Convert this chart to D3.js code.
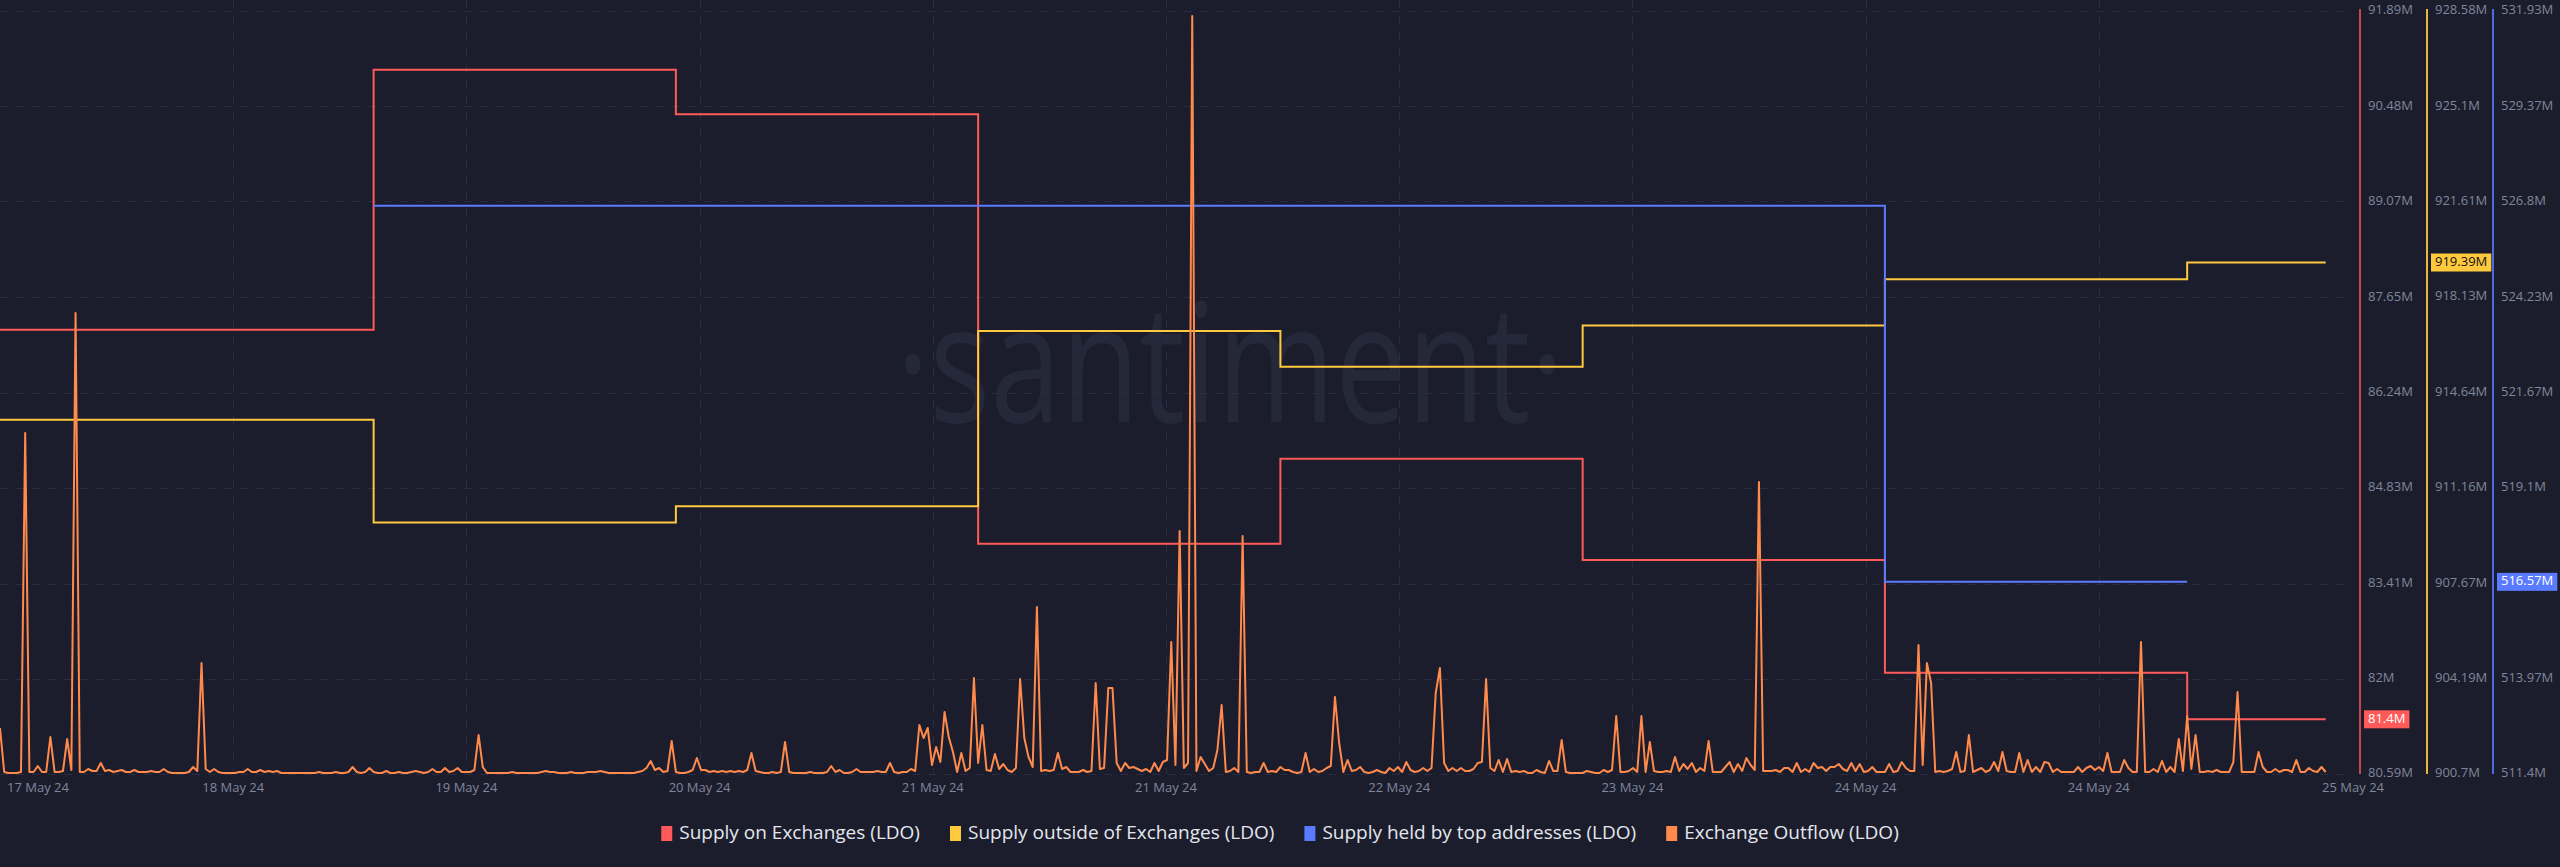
<!DOCTYPE html>
<html><head><meta charset="utf-8">
<script src="https://cdn.jsdelivr.net/npm/d3@7"></script>
<style>
html,body{margin:0;padding:0;background:#1b1d2c;}
svg{display:block;}
</style></head><body>
<svg id="chart" width="2560" height="867"></svg>
<script>
// ---------- DATA ----------
const dayDates = ["2024-05-16","2024-05-17","2024-05-18","2024-05-19","2024-05-20","2024-05-21","2024-05-22","2024-05-23","2024-05-24"];
const lastTimestamp = "2024-05-24T11:00:00Z";
// millions of LDO
const supplyOnExchanges = [87.17, 87.17, 91.02, 90.36, 84.00, 85.26, 83.76, 82.09, 81.40];
const supplyOutsideExchanges = [913.64, 913.64, 909.89, 910.48, 916.89, 915.58, 917.09, 918.78, 919.39];
const supplyTopAddresses = [null, null, 526.69, 526.69, 526.69, 526.69, 526.69, 516.57, 516.57];

// Exchange outflow (thousand LDO), one value every 20 minutes from outflowStart
const outflowStart = "2024-05-16T18:20:00Z";
const outflowStepMinutes = 20;
const exchangeOutflow = [
45,1,0,0,0,1,340,1,1,7,1,1,36,1,1,2,34,3,460,1,1,4,2,2,
10,2,3,1,2,3,1,1,3,1,1,1,2,1,1,4,1,0,0,0,0,1,6,2,
110,4,1,4,1,0,0,0,0,1,1,4,1,1,3,1,2,1,2,0,0,0,0,0,
0,0,0,0,1,0,0,0,1,0,0,1,6,1,0,1,5,1,0,0,2,0,0,1,
0,0,1,2,1,0,1,4,1,1,5,1,2,5,1,1,1,3,38,6,0,0,0,0,
0,0,1,0,0,0,0,0,0,1,2,1,1,0,0,0,1,0,0,0,1,1,1,2,
1,0,0,0,0,0,0,0,1,2,5,12,3,5,1,2,32,1,0,0,1,3,15,3,
3,1,2,1,2,1,2,1,2,1,3,20,2,1,0,0,1,0,1,31,1,0,0,0,
0,1,0,0,0,1,7,1,3,0,0,1,4,1,1,1,1,2,1,1,10,1,0,1,
1,4,2,48,35,45,8,26,11,61,36,21,1,20,2,5,95,10,48,3,2,19,4,9,
3,1,5,94,35,16,6,166,2,3,2,3,20,4,6,1,1,1,3,1,2,90,4,5,
85,85,10,2,10,5,6,4,2,4,1,10,2,11,13,131,8,242,5,10,757,2,16,9,
2,5,23,68,1,2,5,1,237,1,0,1,1,10,1,2,1,6,3,3,1,0,1,20,
1,4,1,2,5,7,76,30,1,13,2,3,6,1,0,1,3,1,0,5,2,6,1,11,
3,1,2,5,2,5,80,105,10,2,5,2,5,2,2,4,10,11,94,5,2,13,1,14,
1,2,1,2,0,0,3,1,0,12,2,2,33,1,0,0,0,0,2,1,0,0,3,1,
3,57,1,1,2,5,1,57,1,31,2,1,1,2,1,16,2,9,4,10,1,5,2,32,
1,1,1,6,11,1,9,2,15,8,3,291,2,2,2,3,1,5,5,1,10,1,4,1,
10,5,6,2,6,6,9,4,2,10,2,9,1,2,6,1,1,1,9,1,2,11,5,2,
2,128,8,110,90,1,2,1,2,4,21,1,2,38,1,3,5,1,3,11,2,21,2,1,
1,20,1,13,1,6,1,11,10,1,4,1,1,1,1,6,1,5,7,3,6,2,20,1,
1,1,13,5,1,1,131,1,1,4,1,12,1,6,1,34,2,57,4,38,1,1,2,1,
3,1,1,1,11,81,1,1,1,1,21,6,1,1,4,1,3,3,1,13,1,1,5,2,
1,6,1
];

const xDomain = ["2024-05-16T18:20:00Z", "2024-05-24T11:30:00Z"];
const xTickLabels = ["17 May 24","18 May 24","19 May 24","20 May 24","21 May 24","21 May 24","22 May 24","23 May 24","24 May 24","24 May 24","25 May 24"];
const redTicks = [80.59, 82, 83.41, 84.83, 86.24, 87.65, 89.07, 90.48, 91.89];
const yellowTicks = [900.7, 904.19, 907.67, 911.16, 914.64, 918.13, 921.61, 925.1, 928.58];
const blueTicks = [511.4, 513.97, 516.53, 519.1, 521.67, 524.23, 526.8, 529.37, 531.93];

const seriesNames = ["Supply on Exchanges (LDO)","Supply outside of Exchanges (LDO)","Supply held by top addresses (LDO)","Exchange Outflow (LDO)"];
const seriesColors = ["#ff5a5a","#ffc93e","#5a7bff","#ff8a4c"];
const axisColors = ["#c2474b","#e8b83c","#4e6ae0"];

// ---------- LAYOUT ----------
const W = 2332, plotTop = 11, plotBottom = 774, gridRight = 2347;
const axisX = [2360, 2427, 2493];
const font = "'Open Sans', 'DejaVu Sans', sans-serif";
const svg = d3.select("#chart");
svg.append("rect").attr("width",2560).attr("height",867).attr("fill","#1b1d2c");

const x = d3.scaleUtc().domain(xDomain.map(d=>new Date(d))).range([0, W]);
const yRed = d3.scaleLinear().domain([redTicks[0], redTicks[redTicks.length-1]]).range([plotBottom, plotTop]);
const yYel = d3.scaleLinear().domain([yellowTicks[0], yellowTicks[yellowTicks.length-1]]).range([plotBottom, plotTop]);
const yBlu = d3.scaleLinear().domain([blueTicks[0], blueTicks[blueTicks.length-1]]).range([plotBottom, plotTop]);
const yOut = d3.scaleLinear().domain([0, d3.max(exchangeOutflow)]).range([773, 16]);

// watermark
svg.append("text").attr("x",1230).attr("y",422).attr("text-anchor","middle")
  .attr("font-family",font).attr("font-size",165).attr("font-weight",400)
  .attr("fill","#252839").attr("textLength",668).attr("lengthAdjust","spacingAndGlyphs")
  .text("·santiment·");

// grid
const grid = svg.append("g").attr("stroke","#2a2d41").attr("stroke-width",1).attr("stroke-dasharray","8,8");
redTicks.forEach(v=>{
  grid.append("line").attr("x1",0).attr("x2",gridRight).attr("y1",Math.round(yRed(v))+0.5).attr("y2",Math.round(yRed(v))+0.5);
});
const t0 = +x.domain()[0], t1 = +x.domain()[1];
const tickTimes = xTickLabels.map((_,k)=>new Date(t0 + k*(t1-t0)/(xTickLabels.length-1)));
tickTimes.forEach((t,k)=>{
  if(k===0||k===tickTimes.length-1) return;
  grid.append("line").attr("x1",Math.round(x(t))+0.5).attr("x2",Math.round(x(t))+0.5).attr("y1",0).attr("y2",plotBottom);
});

// x labels
tickTimes.forEach((t,k)=>{
  let xx = x(t), anchor="middle";
  if(k===0){xx = 7; anchor="start";}
  if(k===tickTimes.length-1){xx = 2384; anchor="end";}
  svg.append("text").attr("x",xx).attr("y",789).attr("text-anchor",anchor).attr("dominant-baseline","middle")
    .attr("font-family",font).attr("font-size",13).attr("fill","#80869b").text(xTickLabels[k]);
});

// series
const clip = svg.append("defs").append("clipPath").attr("id","clip");
clip.append("rect").attr("x",0).attr("y",0).attr("width",W).attr("height",plotBottom+2);
const plot = svg.append("g").attr("clip-path","url(#clip)");

function dailyPoints(vals, extend){
  const pts = dayDates.map((d,i)=>({t:new Date(d+"T00:00:00Z"), v:vals[i]})).filter(p=>p.v!=null);
  if(extend) pts.push({t:new Date(lastTimestamp), v:vals[vals.length-1]});
  return pts;
}
function stepLine(pts, y, color){
  const line = d3.line().x(p=>x(p.t)).y(p=>y(p.v)).curve(d3.curveStepAfter);
  plot.append("path").attr("d",line(pts)).attr("fill","none").attr("stroke",color).attr("stroke-width",2);
}
stepLine(dailyPoints(supplyOnExchanges,true), yRed, seriesColors[0]);
stepLine(dailyPoints(supplyOutsideExchanges,true), yYel, seriesColors[1]);
stepLine(dailyPoints(supplyTopAddresses,false), yBlu, seriesColors[2]);

const outStart = +new Date(outflowStart);
const outLine = d3.line().x((v,i)=>x(new Date(outStart + i*outflowStepMinutes*60000))).y(v=>yOut(v));
plot.append("path").attr("d",outLine(exchangeOutflow)).attr("fill","none").attr("stroke",seriesColors[3])
  .attr("stroke-width",2).attr("stroke-linejoin","round");

// right axes
const axes = [[redTicks,yRed],[yellowTicks,yYel],[blueTicks,yBlu]];
axes.forEach(([ticks,y],j)=>{
  svg.append("line").attr("x1",axisX[j]).attr("x2",axisX[j]).attr("y1",9).attr("y2",plotBottom)
    .attr("stroke",axisColors[j]).attr("stroke-width",2);
  ticks.forEach(v=>{
    svg.append("text").attr("x",axisX[j]+8).attr("y",y(v)).attr("dominant-baseline","middle")
      .attr("font-family",font).attr("font-size",13).attr("fill","#80869b").text(v+"M");
  });
});

// last value badges
const lastVals = [supplyOnExchanges[supplyOnExchanges.length-1], supplyOutsideExchanges[supplyOutsideExchanges.length-1], supplyTopAddresses[supplyTopAddresses.length-1]];
const badgeText = ["#ffffff","#111111","#ffffff"];
axes.forEach(([ticks,y],j)=>{
  const g = svg.append("g");
  const t = g.append("text").attr("x",axisX[j]+8).attr("y",y(lastVals[j])).attr("dominant-baseline","middle")
    .attr("font-family",font).attr("font-size",13).attr("fill",badgeText[j]).text(lastVals[j]+"M");
  const w = t.node().getComputedTextLength();
  g.insert("rect","text").attr("x",axisX[j]+4).attr("y",y(lastVals[j])-9).attr("width",w+8).attr("height",18)
    .attr("fill",seriesColors[j]);
});

// legend
const legend = svg.append("g");
let lx = 0;
seriesNames.forEach((name,i)=>{
  const item = legend.append("g").attr("transform",`translate(${lx},0)`);
  item.append("rect").attr("x",0).attr("y",826).attr("width",11).attr("height",15).attr("fill",seriesColors[i]);
  const t = item.append("text").attr("x",18).attr("y",834).attr("dominant-baseline","middle")
    .attr("font-family",font).attr("font-size",19).attr("fill","#e4e6ee").text(name);
  lx += 18 + t.node().getComputedTextLength() + 30;
});
const totalW = lx - 30;
legend.attr("transform",`translate(${1280 - totalW/2},0)`);
</script>
</body></html>
